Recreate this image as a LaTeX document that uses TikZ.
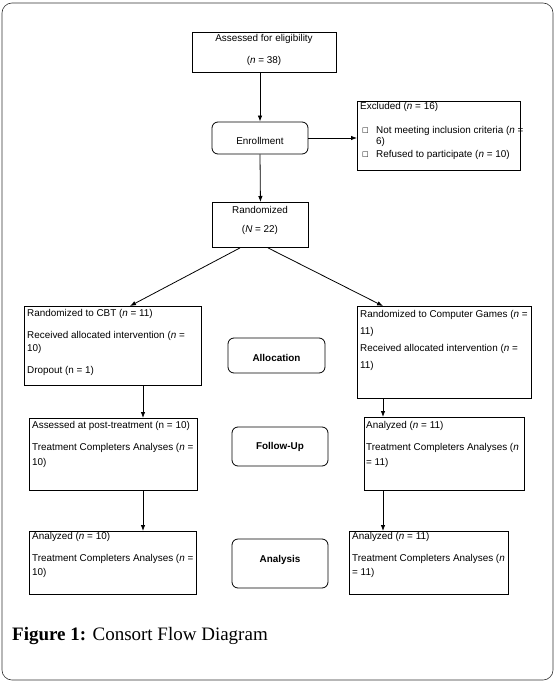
\documentclass[tikz,border=0pt]{standalone}
\usepackage{fontspec}
\setmainfont{Liberation Sans}
\newfontfamily\capfont{Liberation Serif}
\newfontfamily\symfont{DejaVu Sans}
\usetikzlibrary{arrows.meta,calc}
\tikzset{
  boxnode/.style={draw, line width=0.9pt, anchor=north west, inner sep=0pt},
  stagenode/.style={draw, line width=0.8pt, rounded corners=6pt, inner sep=0pt},
  txt/.style={anchor=west, inner sep=0pt, font=\fontsize{9.9}{12}\selectfont},
  ctxt/.style={anchor=center, inner sep=0pt, font=\fontsize{9.9}{12}\selectfont},
  btxt/.style={anchor=center, inner sep=0pt, font=\fontsize{9.9}{12}\selectfont\bfseries},
  bul/.style={anchor=west, inner sep=0pt, font=\symfont\fontsize{7}{8}\selectfont},
  arr/.style={-{Latex[length=6pt,width=4.5pt]}, line width=0.8pt}
}
\begin{document}
\begin{tikzpicture}[x=1pt,y=-1pt]
\useasboundingbox (0,0) rectangle (557,682);
\draw[line width=0.6pt, draw=black!80, rounded corners=10pt] (2,3) rectangle (553,680);

% boxes
\node[boxnode, minimum width=144pt, minimum height=40pt] (assess) at (192,32) {};
\node[stagenode, minimum width=96pt, minimum height=32pt] (enroll) at (260,138) {};
\node[boxnode, minimum width=163pt, minimum height=69pt] (excl) at (357,101) {};
\node[boxnode, minimum width=96pt, minimum height=45pt] (rand) at (212,202) {};
\node[boxnode, minimum width=177pt, minimum height=79pt] (cbt) at (24,306) {};
\node[boxnode, minimum width=174pt, minimum height=92pt] (cg) at (357,306) {};
\node[stagenode, minimum width=97pt, minimum height=35pt] (alloc) at (276.5,355.5) {};
\node[boxnode, minimum width=168pt, minimum height=72pt] (fl) at (29,418) {};
\node[boxnode, minimum width=160pt, minimum height=73pt] (fr) at (364,417) {};
\node[stagenode, minimum width=96pt, minimum height=39pt] (fu) at (280,446.5) {};
\node[boxnode, minimum width=167pt, minimum height=63pt] (al) at (29,531) {};
\node[boxnode, minimum width=159pt, minimum height=63pt] (ar) at (349,531) {};
\node[stagenode, minimum width=96pt, minimum height=49pt] (an) at (280,563.5) {};

% texts
\node[ctxt] (t1) at (264,39) {Assessed for eligibility};
\node[ctxt] (t2) at (264,61) {(\textit{n} = 38)};
\node[ctxt] (t3) at (260,141) {Enrollment};
\node[txt] (t4) at (360,107) {Excluded (\textit{n} = 16)};
\node[bul] (b1) at (362,131) {□};
\node[txt] (t5) at (376,131) {Not meeting inclusion criteria (\textit{n} =};
\node[txt] (t6) at (376,142) {6)};
\node[bul] (b2) at (362,155) {□};
\node[txt] (t7) at (376,155) {Refused to participate (\textit{n} = 10)};
\node[ctxt] (t8) at (260,210) {Randomized};
\node[ctxt] (t9) at (260,230) {(\textit{N} = 22)};
\node[txt] (t10) at (27,314) {Randomized to CBT (\textit{n} = 11)};
\node[txt] (t11) at (27,336) {Received allocated intervention (\textit{n} =};
\node[txt] (t12) at (27,349) {10)};
\node[txt] (t13) at (27,371) {Dropout (n = 1)};
\node[txt] (t14) at (360,315) {Randomized to Computer Games (\textit{n} =};
\node[txt] (t15) at (360,332) {11)};
\node[txt] (t16) at (360,349) {Received allocated intervention (\textit{n} =};
\node[txt] (t17) at (360,366) {11)};
\node[btxt] (t18) at (276.5,358) {Allocation};
\node[txt] (t19) at (32,426) {Assessed at post-treatment (n = 10)};
\node[txt] (t20) at (32,448) {Treatment Completers Analyses (\textit{n} =};
\node[txt] (t21) at (32,463) {10)};
\node[txt] (t22) at (366,426) {Analyzed (\textit{n} = 11)};
\node[txt] (t23) at (366,448) {Treatment Completers Analyses (\textit{n}};
\node[txt] (t24) at (366,463) {= 11)};
\node[btxt] (t25) at (280,447) {Follow-Up};
\node[txt] (t26) at (32,537) {Analyzed (\textit{n} = 10)};
\node[txt] (t27) at (32,559) {Treatment Completers Analyses (\textit{n} =};
\node[txt] (t28) at (32,573) {10)};
\node[txt] (t29) at (352,537) {Analyzed (\textit{n} = 11)};
\node[txt] (t30) at (352,559) {Treatment Completers Analyses (\textit{n}};
\node[txt] (t31) at (352,573) {= 11)};
\node[btxt] (t32) at (280,560) {Analysis};

\node[anchor=base west, inner sep=0pt, font=\capfont\fontsize{19}{21}\selectfont] (cap) at (12,640) {\textbf{Figure 1:} Consort Flow Diagram};

% connectors
\draw[arr] ($(assess.south west)+(68,0)$) -- (enroll.north);
\draw[arr] (enroll.east) -- (excl.west |- enroll.east);
\draw[arr] (enroll.south) -- (rand.north);
\draw[arr] ($(rand.south west)+(28,0)$) -- ($(cbt.north west)+(106,0)$);
\draw[arr] ($(rand.south west)+(56,0)$) -- ($(cg.north west)+(26,0)$);
\draw[arr] ($(cbt.south west)+(119,0)$) -- ($(fl.north west)+(114,0)$);
\draw[arr] ($(cg.south west)+(26,0)$) -- ($(fr.north west)+(19,0)$);
\draw[arr] ($(fl.south west)+(114,0)$) -- ($(al.north west)+(114,0)$);
\draw[arr] ($(fr.south west)+(19,0)$) -- ($(ar.north west)+(34,0)$);
\end{tikzpicture}
\end{document}
